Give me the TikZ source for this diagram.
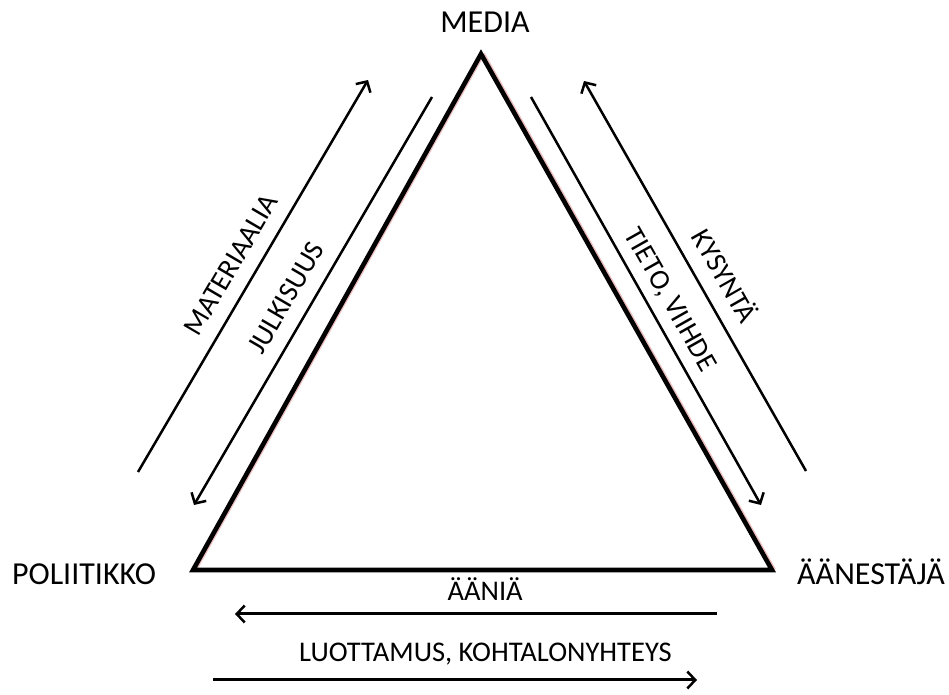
\documentclass[tikz,border=0pt]{standalone}
\usepackage{fontspec}
\setmainfont{Carlito}
\usetikzlibrary{arrows.meta}
\definecolor{mediashadow}{RGB}{236,190,190}

\begin{document}
\begin{tikzpicture}[x=1pt,y=1pt,
  every node/.style={inner sep=0pt},
  cornerlabel/.style={font=\fontsize{32}{36}\selectfont,anchor=base},
  flowlabel/.style={font=\fontsize{28.5}{32}\selectfont,text height=18.3pt,text depth=0pt},
  flowarrow/.style={line width=2.5pt,-{Straight Barb[length=8pt,width=17pt,line width=2.5pt]}},
  flatarrow/.style={flowarrow,line width=3pt}]
\useasboundingbox (0,0) rectangle (949,695);
% triangle
\coordinate (media) at (481,641);
\coordinate (pol) at (193,125);
\coordinate (aan) at (772,125);
\draw[mediashadow,line width=4pt] ([xshift=2pt]media) -- ([xshift=2pt]aan);
\draw[mediashadow,line width=2pt] ([xshift=3pt]media) -- ([xshift=3pt]pol);
\draw[line width=4.6pt,line join=miter] (media) -- (aan) -- (pol) -- cycle;
\node[cornerlabel] (medialbl) at (485,662) {MEDIA};
\node[cornerlabel] (pollbl) at (84,110) {POLIITIKKO};
\node[cornerlabel] (aanlbl) at (871,110) {ÄÄNESTÄJÄ};
% left side
\coordinate (mat1) at (138,223); \coordinate (mat2) at (368,615);
\coordinate (jul1) at (432,598); \coordinate (jul2) at (194,190);
\draw[flowarrow] (mat1) -- node[flowlabel,sloped,above=14.3pt,pos=.497] (matlbl) {MATERIAALIA} (mat2);
\draw[flowarrow] (jul1) -- node[flowlabel,sloped,above=14.6pt,pos=.523] (jullbl) {JULKISUUS} (jul2);
% right side
\coordinate (tie1) at (531,598); \coordinate (tie2) at (761,190);
\coordinate (kys1) at (806,224); \coordinate (kys2) at (584,614);
\draw[flowarrow] (tie1) -- node[flowlabel,sloped,above=12.2pt,pos=.523] (tielbl) {TIETO, VIIHDE} (tie2);
\draw[flowarrow] (kys1) -- node[flowlabel,sloped,above=14.6pt,pos=.467] (kyslbl) {KYSYNTÄ} (kys2);
% bottom
\coordinate (ani1) at (717,81); \coordinate (ani2) at (235,81);
\coordinate (luo1) at (213,15); \coordinate (luo2) at (697,15);
\draw[flatarrow] (ani1) -- node[flowlabel,above=12pt,pos=.481] (anilbl) {ÄÄNIÄ} (ani2);
\draw[flatarrow] (luo1) -- node[flowlabel,above=17pt,pos=.563] (luolbl) {LUOTTAMUS, KOHTALONYHTEYS} (luo2);
\end{tikzpicture}
\end{document}
